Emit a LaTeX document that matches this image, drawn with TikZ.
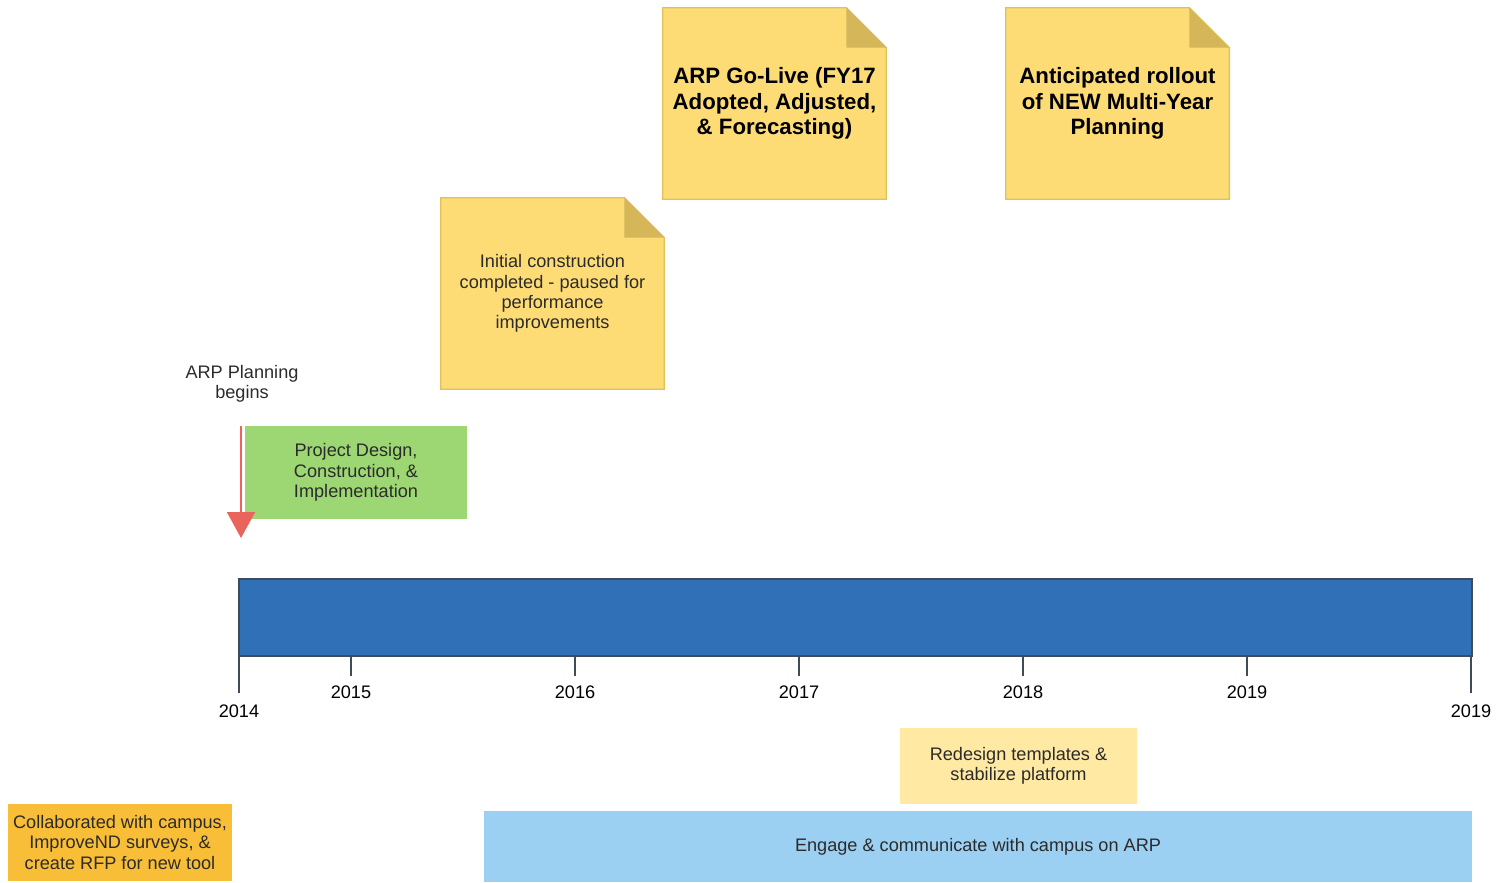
\documentclass[tikz,border=0pt]{standalone}
\usepackage{fontspec}
\setmainfont{Liberation Sans}
\usetikzlibrary{arrows.meta,backgrounds}
\definecolor{notefill}{HTML}{FDDC76}
\definecolor{noteline}{HTML}{E2C158}
\definecolor{notefold}{HTML}{D5B659}
\definecolor{barblue}{HTML}{2F70B6}
\definecolor{barline}{HTML}{3D4B5C}
\definecolor{greenbox}{HTML}{9DD773}
\definecolor{arrowred}{HTML}{E9645B}
\definecolor{paleyellow}{HTML}{FFE9A3}
\definecolor{paleblue}{HTML}{9BD0F2}
\definecolor{orangebox}{HTML}{F9BE37}
\definecolor{textgray}{HTML}{2B2B2B}
\begin{document}
\begin{tikzpicture}[x=0.025cm,y=-0.025cm]
\def\px{0.025cm}
\tikzset{base/.style={inner sep=0pt,align=center},
txt/.style={base,font=\fontsize{12.9}{14.4}\selectfont,text=textgray},
big/.style={base,font=\fontsize{15.8}{18.1}\selectfont\bfseries,text=black},
note/.style={minimum width=223*\px,minimum height=191*\px},
box/.style={txt,minimum width=#1*\px},
tick/.style={barline,line width=1.4pt},
every path/.style={>=Triangle}}
\def\dogear#1{%
\draw[noteline,line width=1pt,fill=notefill] (#1.north west) -- ([xshift=-1cm]#1.north east) -- ([yshift=-1cm]#1.north east) -- (#1.south east) -- (#1.south west) -- cycle;
\fill[notefold] ([xshift=-1cm]#1.north east) -- ([xshift=-1cm,yshift=-1cm]#1.north east) -- ([yshift=-1cm]#1.north east) -- cycle;}
\useasboundingbox (0,0) rectangle (1499,882);
% milestones
\node[txt,note] at (552.5,293.5) (N1) {Initial construction\\ completed - paused for\\ performance\\ improvements};
\node[big,note] at (774.5,103.5) (N2) {ARP Go-Live (FY17\\ Adopted, Adjusted,\\ \& Forecasting)};
\node[big,note] at (1117.5,103.5) (N3) {Anticipated rollout\\ of NEW Multi-Year\\ Planning};
\begin{scope}[on background layer]
\dogear{N1} \dogear{N2} \dogear{N3}
\end{scope}
% start
\node[txt] at (242,383.5) (PLAN) {ARP Planning\\ begins};
\node[box=222,minimum height=93*\px,fill=greenbox] at (356,472.5) (PD) {Project Design,\\ Construction, \&\\ Implementation};
\coordinate (A1) at (241,426);
\coordinate (A2) at (241,538);
\draw[->,arrowred,line width=1.4pt,arrows={->[width=0.7cm,length=0.65cm]}] (A1) -- (A2);
% timeline
\node[draw=barline,line width=1.2pt,fill=barblue,minimum width=1233*\px,minimum height=77*\px,inner sep=0pt] at (855.5,617.5) (BAR) {};
\foreach \x/\yr in {351/2015,575/2016,799/2017,1023/2018,1247/2019}
\draw[tick] (\x,656) -- (\x,676) node[txt,text=black] at (\x,692) {\yr};
\foreach \x/\yr in {239/2014,1471/2019}
\draw[tick] (\x,656) -- (\x,693) node[txt,text=black] at (\x,711) {\yr};
% phases
\node[box=237,minimum height=76*\px,fill=paleyellow] at (1018.5,766) (RD) {Redesign templates \&\\ stabilize platform};
\node[box=988,minimum height=71*\px,fill=paleblue] at (978,846.5) (EG) {Engage \& communicate with campus on ARP};
\node[box=224,minimum height=77*\px,fill=orangebox] at (120,842.5) (CO) {Collaborated with campus,\\ ImproveND surveys, \&\\ create RFP for new tool};
\end{tikzpicture}
\end{document}
